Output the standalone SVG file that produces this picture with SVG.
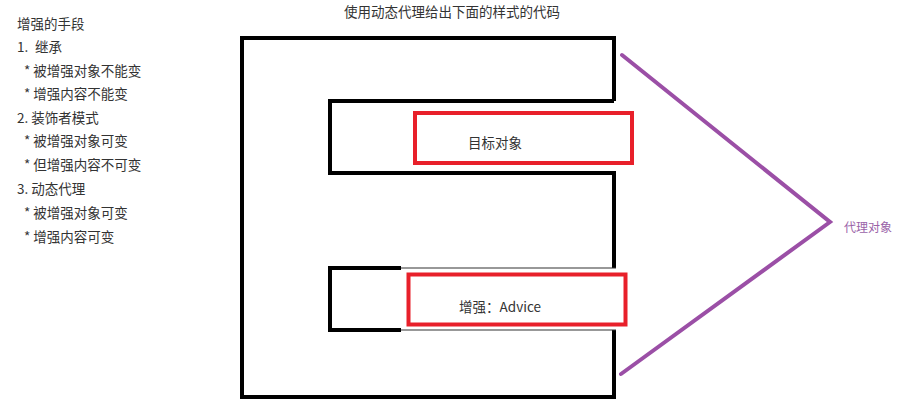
<svg xmlns="http://www.w3.org/2000/svg" width="910" height="413" viewBox="0 0 910 413">
<style>
text{font-family:"Noto Sans CJK SC","Liberation Sans",sans-serif;font-size:13.5px;fill:#333;dominant-baseline:central}
.blk{fill:none;stroke:#000;stroke-width:4;stroke-linejoin:miter}
.thin{fill:none;stroke:#333;stroke-width:1.2}
.red{fill:#fff;stroke:#e8202a;stroke-width:4}
.pur{fill:none;stroke:#9b4fa6;stroke-width:4;stroke-linecap:round}
</style>
<rect width="910" height="413" fill="#fff"/>
<g id="notes">
<text x="17" y="23">增强的手段</text>
<text x="17" y="46">1.<tspan x="35">继承</tspan></text>
<text x="24" y="70">* 被增强对象不能变</text>
<text x="24" y="93">* 增强内容不能变</text>
<text x="17" y="117">2. 装饰者模式</text>
<text x="24" y="140">* 被增强对象可变</text>
<text x="24" y="164">* 但增强内容不可变</text>
<text x="17" y="188">3. 动态代理</text>
<text x="24" y="212">* 被增强对象可变</text>
<text x="24" y="236">* 增强内容可变</text>
</g>
<text id="title" x="452" y="11" text-anchor="middle">使用动态代理给出下面的样式的代码</text>
<g id="proxy-shape">
<path class="blk" d="M614 101 V38 H242 V397 H614 V330"/>
<path class="blk" d="M614 268 V173 H330 V101 H614"/>
<path class="blk" d="M401 268 H330 V330 H401"/>
<path class="thin" d="M401 268 H616 M401 330 H616"/>
</g>
<g id="target">
<rect class="red" x="415" y="113" width="217" height="50"/>
<text x="495" y="142" text-anchor="middle">目标对象</text>
</g>
<g id="advice">
<rect class="red" x="408.5" y="274.5" width="217" height="50"/>
<text x="500" y="306" text-anchor="middle">增强：Advice</text>
</g>
<g id="connectors">
<path class="pur" d="M622 55 L830 222 L621 374"/>
</g>
<g id="proxy-label">
<text x="844" y="226" style="fill:#9a62a8;font-size:12px">代理对象</text>
</g>
</svg>
